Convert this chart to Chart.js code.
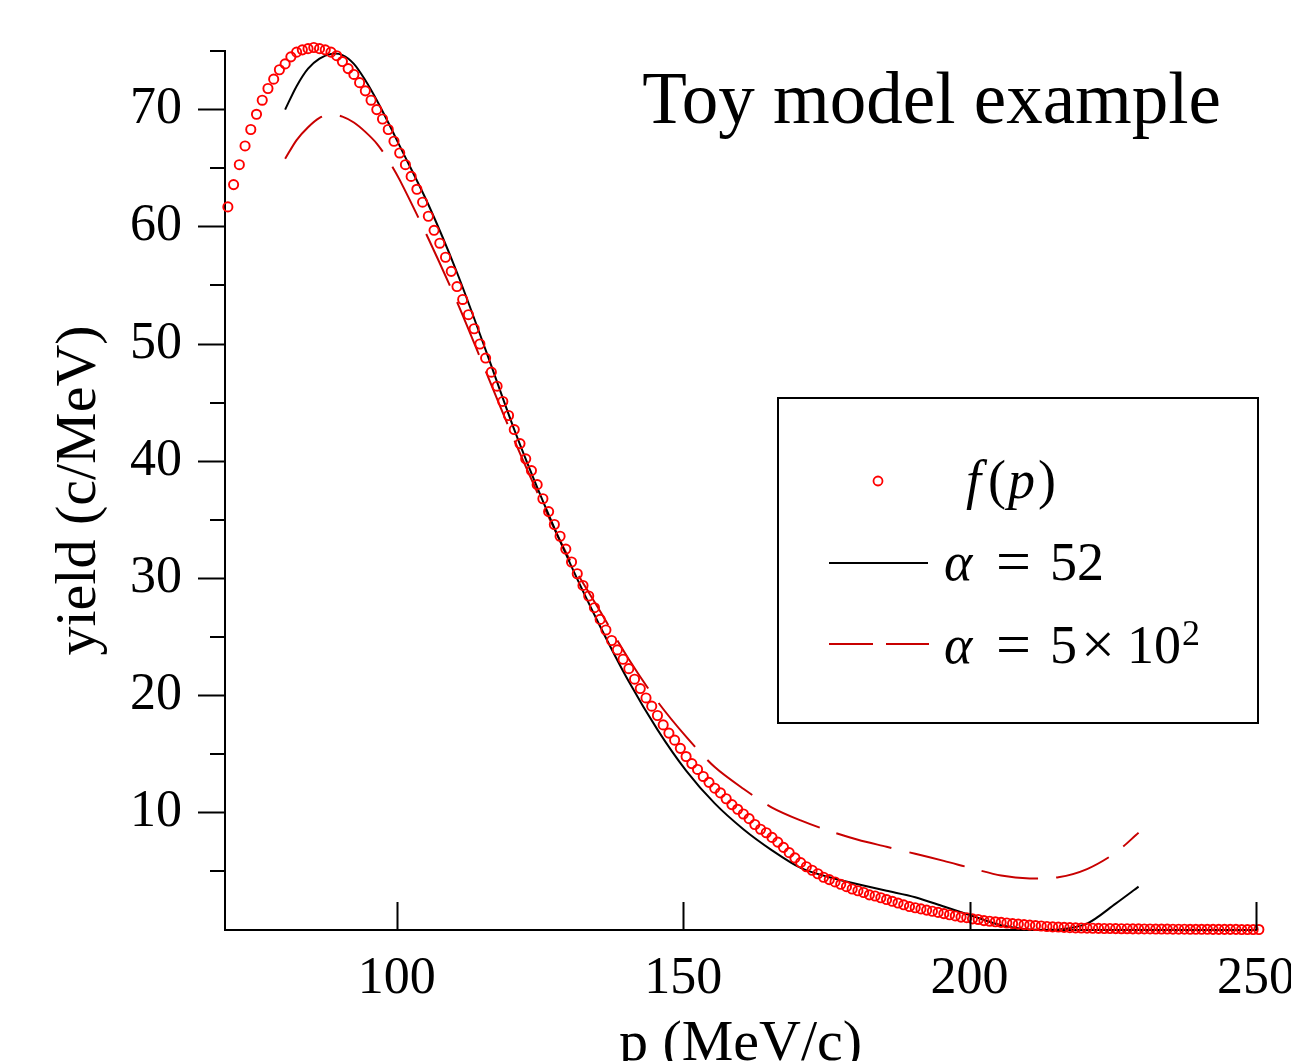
<!DOCTYPE html>
<html>
<head>
<meta charset="utf-8">
<title>Toy model example</title>
<script src="https://cdn.jsdelivr.net/npm/chart.js@4.4.1/dist/chart.umd.min.js"></script>
<style>
  html, body { margin: 0; padding: 0; background: #fff; }
  #wrap { width: 1291px; height: 1061px; }
</style>
</head>
<body>
<div id="wrap"><canvas id="toyChart" width="1291" height="1061"></canvas></div>
<script>
"use strict";

// momentum bins (MeV/c) of the f(p) points
var binMomentum = [
    70.5, 71.5, 72.5, 73.5, 74.5, 75.5, 76.5, 77.5, 78.5, 79.5,
    80.5, 81.5, 82.5, 83.5, 84.5, 85.5, 86.5, 87.5, 88.5, 89.5,
    90.5, 91.5, 92.5, 93.5, 94.5, 95.5, 96.5, 97.5, 98.5, 99.5,
    100.5, 101.5, 102.5, 103.5, 104.5, 105.5, 106.5, 107.5, 108.5, 109.5,
    110.5, 111.5, 112.5, 113.5, 114.5, 115.5, 116.5, 117.5, 118.5, 119.5,
    120.5, 121.5, 122.5, 123.5, 124.5, 125.5, 126.5, 127.5, 128.5, 129.5,
    130.5, 131.5, 132.5, 133.5, 134.5, 135.5, 136.5, 137.5, 138.5, 139.5,
    140.5, 141.5, 142.5, 143.5, 144.5, 145.5, 146.5, 147.5, 148.5, 149.5,
    150.5, 151.5, 152.5, 153.5, 154.5, 155.5, 156.5, 157.5, 158.5, 159.5,
    160.5, 161.5, 162.5, 163.5, 164.5, 165.5, 166.5, 167.5, 168.5, 169.5,
    170.5, 171.5, 172.5, 173.5, 174.5, 175.5, 176.5, 177.5, 178.5, 179.5,
    180.5, 181.5, 182.5, 183.5, 184.5, 185.5, 186.5, 187.5, 188.5, 189.5,
    190.5, 191.5, 192.5, 193.5, 194.5, 195.5, 196.5, 197.5, 198.5, 199.5,
    200.5, 201.5, 202.5, 203.5, 204.5, 205.5, 206.5, 207.5, 208.5, 209.5,
    210.5, 211.5, 212.5, 213.5, 214.5, 215.5, 216.5, 217.5, 218.5, 219.5,
    220.5, 221.5, 222.5, 223.5, 224.5, 225.5, 226.5, 227.5, 228.5, 229.5,
    230.5, 231.5, 232.5, 233.5, 234.5, 235.5, 236.5, 237.5, 238.5, 239.5,
    240.5, 241.5, 242.5, 243.5, 244.5, 245.5, 246.5, 247.5, 248.5, 249.5,
    250.5
];

// f(p) yield (c/MeV)
var fYield = [
    61.7, 63.6, 65.3, 66.9, 68.3, 69.6, 70.8, 71.8, 72.6, 73.4,
    73.9, 74.5, 74.9, 75.1, 75.2, 75.3, 75.2, 75.1, 74.9, 74.6,
    74.1, 73.5, 73.0, 72.3, 71.6, 70.8, 70.0, 69.2, 68.3, 67.3,
    66.3, 65.3, 64.3, 63.2, 62.1, 60.9, 59.7, 58.6, 57.4, 56.2,
    54.9, 53.8, 52.5, 51.3, 50.0, 48.8, 47.6, 46.4, 45.1, 43.9,
    42.7, 41.5, 40.2, 39.2, 38.0, 36.8, 35.7, 34.6, 33.6, 32.5,
    31.4, 30.4, 29.4, 28.5, 27.5, 26.5, 25.6, 24.7, 23.9, 23.1,
    22.3, 21.4, 20.6, 19.8, 19.1, 18.3, 17.5, 16.8, 16.2, 15.5,
    14.8, 14.2, 13.7, 13.1, 12.6, 12.1, 11.7, 11.2, 10.7, 10.3,
    9.9, 9.5, 9.0, 8.6, 8.3, 7.9, 7.5, 7.05, 6.6, 6.15,
    5.75, 5.4, 5.1, 4.8, 4.5, 4.3, 4.1, 3.9, 3.7, 3.5,
    3.35, 3.2, 3.0, 2.9, 2.75, 2.6, 2.45, 2.3, 2.15, 2.0,
    1.9, 1.8, 1.7, 1.6, 1.5, 1.4, 1.3, 1.2, 1.1, 1.05,
    0.95, 0.9, 0.8, 0.75, 0.7, 0.65, 0.6, 0.55, 0.5, 0.46,
    0.42, 0.38, 0.34, 0.3, 0.27, 0.25, 0.22, 0.2, 0.18, 0.17,
    0.16, 0.15, 0.14, 0.13, 0.13, 0.12, 0.11, 0.11, 0.1, 0.1,
    0.09, 0.09, 0.08, 0.08, 0.08, 0.07, 0.07, 0.07, 0.06, 0.06,
    0.06, 0.06, 0.05, 0.05, 0.05, 0.05, 0.05, 0.04, 0.04, 0.04,
    0.04
];

// model curves, sampled momentum
var modelMomentum = [
    80.5, 82.5, 84.5, 86.5, 88.5, 90.5, 92.5, 94.5, 96.5, 98.5,
    100.5, 105.5, 110.5, 115.5, 120.5, 125.5, 130.5, 135.5, 140.5, 145.5,
    150.5, 155.5, 160.5, 165.5, 170.5, 175.5, 180.5, 185.5, 190.5, 195.5,
    200.5, 205.5, 210.5, 215.5, 220.5, 225.5, 229.5
];

// alpha = 52
var alpha52 = [
    70.0, 72.0, 73.5, 74.35, 74.75, 74.65, 73.9, 72.5, 70.8, 68.9,
    66.9, 61.9, 56.1, 49.5, 42.7, 36.6, 31.0, 25.9, 21.2, 17.1,
    13.6, 10.8, 8.6, 6.8, 5.3, 4.5, 3.9, 3.35, 2.8, 2.0,
    1.2, 0.4, 0.05, 0.05, 0.55, 2.25, 3.7
];

// alpha = 5x10^2
var alpha500 = [
    65.8, 67.4, 68.5, 69.3, 69.6, 69.4, 68.9, 68.1, 67.1, 65.7,
    64.0, 59.0, 53.6, 47.7, 41.8, 36.3, 31.3, 27.2, 23.1, 19.5,
    16.5, 13.9, 12.05, 10.45, 9.35, 8.45, 7.7, 7.1, 6.5, 5.9,
    5.25, 4.65, 4.4, 4.5, 5.2, 6.6, 8.3
];

var xTickValues = [100, 150, 200, 250];
var yMajorTicks = [10, 20, 30, 40, 50, 60, 70];

var SERIF = '"Liberation Serif", "Times New Roman", serif';
var DASHED_RED = '#c80000';

function toPoints(xs, ys) {
    return xs.map(function (x, i) { return { x: x, y: ys[i] }; });
}

var decorations = {
    id: 'decorations',
    afterDraw: function (chart) {
        var ctx = chart.ctx;
        var area = chart.chartArea;
        var xs = chart.scales.x;
        var ys = chart.scales.y;

        ctx.save();
        ctx.strokeStyle = '#000';
        ctx.lineWidth = 2;
        ctx.beginPath();
        // x ticks point into the plot
        xs.ticks.forEach(function (t) {
            var px = Math.round(xs.getPixelForValue(t.value)) + 0.5;
            ctx.moveTo(px, area.bottom);
            ctx.lineTo(px, area.bottom - 28);
        });
        // short minor ticks on y
        ys.ticks.forEach(function (t) {
            if (t.value > 0 && yMajorTicks.indexOf(t.value) < 0) {
                var py = Math.round(ys.getPixelForValue(t.value));
                ctx.moveTo(area.left - 15, py);
                ctx.lineTo(area.left, py);
            }
        });
        ctx.stroke();

        // title
        ctx.fillStyle = '#000';
        ctx.textBaseline = 'alphabetic';
        ctx.textAlign = 'right';
        ctx.font = '73px ' + SERIF;
        ctx.fillText('Toy model example', 1221, 123);

        // legend box
        ctx.lineWidth = 2;
        ctx.strokeRect(778, 398, 480, 325);

        ctx.textAlign = 'left';
        ctx.strokeStyle = '#ff0000';
        ctx.lineWidth = 1.8;
        ctx.beginPath();
        ctx.arc(878, 481, 4.5, 0, Math.PI * 2);
        ctx.stroke();

        ctx.strokeStyle = '#000';
        ctx.lineWidth = 2;
        ctx.beginPath();
        ctx.moveTo(829, 563);
        ctx.lineTo(928, 563);
        ctx.stroke();

        ctx.strokeStyle = DASHED_RED;
        ctx.setLineDash([44, 13]);
        ctx.beginPath();
        ctx.moveTo(829, 644);
        ctx.lineTo(929, 644);
        ctx.stroke();
        ctx.setLineDash([]);

        var italic = 'italic 54px ' + SERIF;
        var roman = '54px ' + SERIF;

        ctx.font = italic;
        ctx.fillText('f', 966, 498);
        ctx.font = roman;
        ctx.fillText('(', 988, 498);
        ctx.font = italic;
        ctx.fillText('p', 1008, 498);
        ctx.font = roman;
        ctx.fillText(')', 1038, 498);

        ctx.font = italic;
        ctx.fillText('\u03b1', 944, 580);
        ctx.font = '62px ' + SERIF;
        ctx.fillText('=', 996, 582);
        ctx.font = roman;
        ctx.fillText('52', 1050, 580);

        ctx.font = italic;
        ctx.fillText('\u03b1', 944, 663);
        ctx.font = '62px ' + SERIF;
        ctx.fillText('=', 996, 665);
        ctx.font = roman;
        ctx.fillText('5', 1050, 663);
        ctx.font = '60px ' + SERIF;
        ctx.fillText('\u00d7', 1081, 664);
        ctx.font = roman;
        ctx.fillText('10', 1127, 663);
        ctx.font = '36px ' + SERIF;
        ctx.fillText('2', 1182, 645);

        ctx.restore();
    }
};

var chart = new Chart(document.getElementById('toyChart'), {
    type: 'scatter',
    data: {
        datasets: [
            {
                label: 'f(p)',
                data: toPoints(binMomentum, fYield),
                showLine: false,
                pointStyle: 'circle',
                pointRadius: 4.6,
                pointBorderWidth: 1.9,
                pointBorderColor: '#ff0000',
                pointBackgroundColor: 'rgba(0,0,0,0)',
                clip: false,
                order: 1
            },
            {
                label: '\u03b1 = 52',
                data: toPoints(modelMomentum, alpha52),
                showLine: true,
                borderColor: '#000',
                borderWidth: 2,
                pointRadius: 0,
                tension: 0.3,
                clip: false,
                order: 2
            },
            {
                label: '\u03b1 = 5\u00d710\u00b2',
                data: toPoints(modelMomentum, alpha500),
                showLine: true,
                borderColor: DASHED_RED,
                borderWidth: 2,
                borderDash: [57, 18],
                pointRadius: 0,
                tension: 0.3,
                clip: false,
                order: 3
            }
        ]
    },
    options: {
        responsive: false,
        animation: false,
        events: [],
        layout: { padding: { top: 51, right: 35, left: 0, bottom: 0 } },
        plugins: {
            legend: { display: false },
            tooltip: { enabled: false }
        },
        scales: {
            x: {
                type: 'linear',
                min: 70,
                max: 250,
                afterBuildTicks: function (scale) {
                    scale.ticks = xTickValues.map(function (v) { return { value: v }; });
                },
                afterFit: function (scale) {
                    scale.height = 131;
                    scale.paddingLeft = 0;
                    scale.paddingRight = 0;
                },
                ticks: {
                    color: '#000',
                    padding: 18,
                    maxRotation: 0,
                    autoSkip: false,
                    font: { family: SERIF, size: 52 }
                },
                grid: { drawOnChartArea: false, drawTicks: false },
                border: { color: '#000', width: 2 },
                title: {
                    display: true,
                    text: 'p (MeV/c)',
                    color: '#000',
                    padding: 0,
                    font: { family: SERIF, size: 58, weight: 'normal', lineHeight: 0.55 }
                }
            },
            y: {
                min: 0,
                max: 75,
                afterFit: function (scale) {
                    scale.width = 225;
                },
                ticks: {
                    stepSize: 5,
                    color: '#000',
                    padding: 16,
                    autoSkip: false,
                    font: { family: SERIF, size: 52 },
                    callback: function (value) {
                        return yMajorTicks.indexOf(value) >= 0 ? String(value) : '';
                    }
                },
                grid: {
                    drawOnChartArea: false,
                    tickLength: 27,
                    tickWidth: 2,
                    tickColor: function (c) {
                        return (c.tick && yMajorTicks.indexOf(c.tick.value) >= 0) ? '#000' : 'rgba(0,0,0,0)';
                    }
                },
                border: { color: '#000', width: 2 },
                title: {
                    display: true,
                    text: 'yield (c/MeV)',
                    color: '#000',
                    padding: { top: 45, bottom: 0 },
                    font: { family: SERIF, size: 58, weight: 'normal' }
                }
            }
        }
    },
    plugins: [decorations]
});
</script>
</body>
</html>
